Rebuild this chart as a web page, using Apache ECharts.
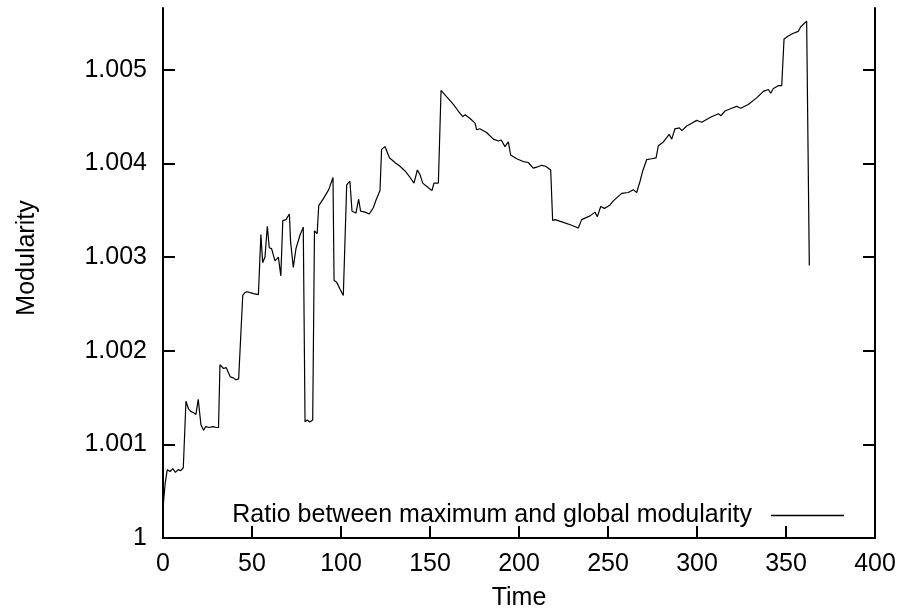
<!DOCTYPE html>
<html>
<head>
<meta charset="utf-8">
<script src="https://cdn.jsdelivr.net/npm/echarts@6/dist/echarts.min.js"></script>
<style>
html,body{margin:0;padding:0;background:#fff;}
#chart{width:901px;height:616px;}
</style>
</head>
<body>
<div id="chart"></div>
<script>
var seriesName = 'Ratio between maximum and global modularity';
var xTitle = 'Time';
var yTitle = 'Modularity';
var yTickValues = [1, 1.001, 1.002, 1.003, 1.004, 1.005];
var yTickLabels = ['1', '1.001', '1.002', '1.003', '1.004', '1.005'];

var times = [0,1.2,2.4,4,5.5,7,8.5,10,11.4,12.9,14.3,15.7,17,18.5,19.8,21.3,22.8,24,26,28,30,31.2,
32,34,35.5,37.8,39.5,41,42.5,43.5,44.8,46,47.2,49,50.9,53.6,55,56,57.3,58.6,59.7,61,62.9,64.8,66.2,
67.3,69.1,71,71.7,73.2,74.7,76.9,78.8,79.8,81,82.5,84.1,85.1,86.6,87.5,90.3,93.1,95.5,96.1,97.6,99.4,
101.3,103.2,105,106.2,107.3,108.4,109.9,111,113.5,115.9,118.2,119.7,121.9,122.8,124.7,127.2,130.3,
133.1,136,138.8,141,142.9,144.4,145.9,149.1,151.1,152.2,154.7,156.2,159.4,163.1,165.9,168.4,169.7,
172.5,175.3,176.2,178,181.8,185.6,188.4,190,192.1,194,195.3,198.7,202.4,205.2,208,210,212.7,215,
217.8,218.9,220.2,224.9,229.6,233.3,235.2,239.9,242.7,244,245.9,248,250.8,253,257.7,261.4,264.2,
266.1,268,269.5,271.7,274.5,277,278.3,281.1,284.4,285.8,287.6,290.1,291.5,294.2,297,299.8,302.6,
305.4,307.3,312,313.5,315.7,319.5,322.3,324.5,328.8,333.5,337.3,340.1,341.4,342.9,345.7,347.6,
348.9,351.3,354.1,356.9,358.3,361.6,363.1];

var ratio = [1.00032,1.00058,1.00073,1.00071,1.00074,1.00070,1.00073,1.00072,1.00075,1.00146,1.00138,
1.00135,1.00134,1.00132,1.00148,1.00121,1.00115,1.00119,1.00118,1.00119,1.00118,1.00118,
1.00185,1.00181,1.00182,1.00172,1.00171,1.00169,1.00170,1.00168,1.00259,1.00262,1.00263,1.00262,
1.00261,1.00260,1.00324,1.00294,1.00300,1.00333,1.00310,1.00309,1.00296,1.00300,1.00280,
1.00339,1.00340,1.00346,1.00316,1.00289,1.00309,1.00323,1.00332,1.00124,1.00126,1.00124,1.00126,
1.00328,1.00325,1.00355,1.00363,1.00372,1.00385,1.00275,1.00273,1.00266,
1.00259,1.00377,1.00381,1.00349,1.00351,1.00347,1.00362,1.00349,1.00348,1.00346,1.00353,1.00361,
1.00371,1.00415,1.00418,1.00406,1.00401,
1.00397,1.00392,1.00385,1.00379,1.00393,1.00388,1.00379,1.00374,1.00371,1.00379,1.00379,1.00478,
1.00471,1.00463,1.00456,1.00450,1.00452,
1.00448,1.00443,1.00436,1.00437,1.00433,1.00426,1.00424,1.00425,1.00418,1.00423,1.00409,1.00405,
1.00402,1.00401,1.00395,1.00396,1.00398,1.00397,
1.00393,1.00339,1.00340,1.00337,1.00334,1.00331,1.00340,1.00344,1.00348,1.00343,1.00354,1.00352,
1.00355,1.00360,1.00368,1.00369,1.00372,
1.00369,1.00381,1.00392,1.00404,1.00405,1.00406,1.00419,1.00423,1.00431,1.00426,1.00437,1.00438,
1.00435,1.00440,1.00443,1.00446,1.00444,
1.00447,1.00449,1.00453,1.00451,1.00456,1.00459,1.00461,1.00459,1.00463,1.00470,1.00477,1.00479,
1.00475,1.00480,1.00483,1.00483,
1.00533,1.00536,1.00539,1.00541,1.00546,1.00552,1.00291];

var font = "'Liberation Sans', Arial, Helvetica, sans-serif";
var data = times.map(function (t, i) { return [t, ratio[i]]; });

var chart = echarts.init(document.getElementById('chart'), null, {renderer: 'canvas'});
var yAxisCommon = {
  type: 'value',
  min: 1,
  max: 1.00566,
  axisLine: {show: true, lineStyle: {color: '#000', width: 2}},
  splitLine: {show: false},
  axisTick: {show: true, inside: true, length: 12, customValues: yTickValues, lineStyle: {color: '#000', width: 2}}
};
chart.setOption({
  animation: false,
  backgroundColor: '#fff',
  textStyle: {fontFamily: font},
  grid: {left: 163, right: 26, top: 8, bottom: 76, containLabel: false},
  legend: {
    show: true,
    data: [{name: seriesName, icon: 'rect'}],
    right: 57,
    top: 503,
    padding: 0,
    align: 'right',
    itemWidth: 73,
    itemHeight: 1.3,
    itemStyle: {color: '#000', borderWidth: 0},
    lineStyle: {width: 0},
    textStyle: {fontFamily: font, fontSize: 25, color: '#000', padding: [0, 14, 0, 0]}
  },
  xAxis: {
    type: 'value',
    min: 0,
    max: 400,
    interval: 50,
    name: xTitle,
    nameLocation: 'middle',
    nameGap: 48,
    nameTextStyle: {fontFamily: font, fontSize: 25, color: '#000'},
    axisLine: {show: true, onZero: false, lineStyle: {color: '#000', width: 2}},
    axisTick: {show: true, inside: true, length: 12, lineStyle: {color: '#000', width: 2}},
    axisLabel: {fontFamily: font, fontSize: 25, color: '#000', margin: 14},
    splitLine: {show: false}
  },
  yAxis: [
    Object.assign({}, yAxisCommon, {
      position: 'left',
      name: yTitle,
      nameLocation: 'middle',
      nameGap: 123,
      nameTextStyle: {fontFamily: font, fontSize: 25, color: '#000', padding: [0, 0, 0, 30]},
      axisLabel: {
        fontFamily: font, fontSize: 25, color: '#000', margin: 16,
        customValues: yTickValues,
        formatter: function (v) {
          var i = yTickValues.findIndex(function (t) { return Math.abs(t - v) < 1e-9; });
          return i >= 0 ? yTickLabels[i] : '';
        }
      }
    }),
    Object.assign({}, yAxisCommon, {
      position: 'right',
      axisLabel: {show: false}
    })
  ],
  series: [{
    name: seriesName,
    type: 'line',
    data: data,
    showSymbol: false,
    symbol: 'none',
    lineStyle: {color: '#000', width: 1.2},
    itemStyle: {color: '#000'}
  }]
});
</script>
</body>
</html>
